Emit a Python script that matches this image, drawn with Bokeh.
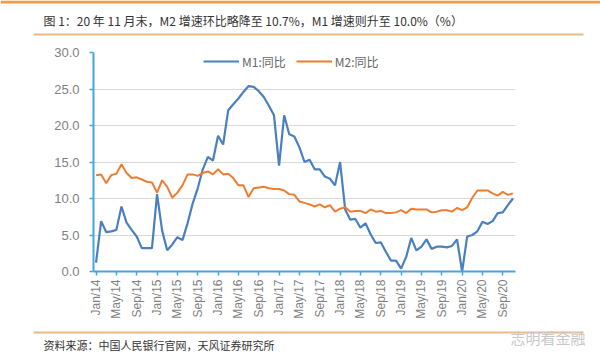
from bokeh.plotting import figure
from bokeh.models import (FixedTicker, NumeralTickFormatter, Legend, LegendItem, Range1d)
from bokeh.layouts import column
from bokeh.core.properties import value
from bokeh.embed import file_html
from bokeh.resources import INLINE

# M1 / M2 year-on-year growth (%), Jan 2014 - Nov 2020
m1 = [1.2, 6.9, 5.4, 5.5, 5.7, 8.9, 6.7, 5.7, 4.8, 3.2, 3.2, 3.2,
      10.6, 5.6, 2.9, 3.7, 4.7, 4.3, 6.6, 9.3, 11.4, 14.0, 15.7, 15.2,
      18.6, 17.4, 22.1, 22.9, 23.7, 24.6, 25.4, 25.3, 24.7, 23.9, 22.7, 21.4,
      14.5, 21.4, 18.8, 18.5, 17.0, 15.0, 15.3, 14.0, 14.0, 13.0, 12.7, 11.8,
      15.0, 8.5, 7.1, 7.2, 6.0, 6.6, 5.1, 3.9, 4.0, 2.7, 1.5, 1.5,
      0.4, 2.0, 4.6, 2.9, 3.4, 4.4, 3.1, 3.4, 3.4, 3.3, 3.5, 4.4,
      0.0, 4.8, 5.0, 5.5, 6.8, 6.5, 6.9, 8.0, 8.1, 9.1, 10.0]
m2 = [13.2, 13.3, 12.1, 13.2, 13.4, 14.7, 13.5, 12.8, 12.9, 12.6, 12.3, 12.2,
      10.8, 12.5, 11.6, 10.1, 10.8, 11.8, 13.3, 13.3, 13.1, 13.5, 13.7, 13.3,
      14.0, 13.3, 13.4, 12.8, 11.8, 11.8, 10.2, 11.4, 11.5, 11.6, 11.4, 11.3,
      11.3, 11.1, 10.6, 10.5, 9.6, 9.4, 9.2, 8.9, 9.2, 8.8, 9.1, 8.2,
      8.6, 8.8, 8.2, 8.3, 8.3, 8.0, 8.5, 8.2, 8.3, 8.0, 8.0, 8.1,
      8.4, 8.0, 8.6, 8.5, 8.5, 8.5, 8.1, 8.2, 8.4, 8.4, 8.2, 8.7,
      8.4, 8.8, 10.1, 11.1, 11.1, 11.1, 10.7, 10.4, 10.9, 10.5, 10.7]
tick_labels = ["Jan/14", "May/14", "Sep/14", "Jan/15", "May/15", "Sep/15",
               "Jan/16", "May/16", "Sep/16", "Jan/17", "May/17", "Sep/17",
               "Jan/18", "May/18", "Sep/18", "Jan/19", "May/19", "Sep/19",
               "Jan/20", "May/20", "Sep/20"]
y_ticks = [0, 5, 10, 15, 20, 25, 30]
series_names = ["M1:同比", "M2:同比"]
title_text = "图 1：20 年 11 月末，M2 增速环比略降至 10.7%，M1 增速则升至 10.0%（%）"
source_text = "资料来源：中国人民银行官网，天风证券研究所"
watermark_text = "志明看金融"

idx = list(range(len(m1)))
tick_pos = [i * 4 for i in range(len(tick_labels))]

CJK = value("Noto Sans CJK SC")
LINE_TAN = "#eab98a"


def strip(h):
    f = figure(width=600, height=h, output_backend="svg", toolbar_location=None,
               x_range=Range1d(0, 600), y_range=Range1d(h, 0),
               x_axis_type=None, y_axis_type=None, min_border=0,
               title=None, frame_align=False)
    f.grid.grid_line_color = None
    f.outline_line_color = None
    f.background_fill_color = "white"
    f.border_fill_color = "white"
    return f


# --- header strip (canvas y 0..40)
top = strip(40)
top.quad(left=[0], right=[600], top=[0], bottom=[3], fill_color="#f29a4b", line_color=None)
top.quad(left=[33], right=[583], top=[33], bottom=[35], fill_color=LINE_TAN, line_color=None)
top.text(x=[43], y=[20], text=[title_text], text_font=CJK, text_font_size=value("12px"),
         text_color="#333333", text_baseline="middle", text_align="left")

# --- main chart (canvas y 40..326)
p = figure(width=600, height=286, output_backend="svg", toolbar_location=None,
           x_range=Range1d(-0.5, len(m1) - 0.5), y_range=Range1d(0, 30),
           min_border_left=93, min_border_right=85, min_border_top=12,
           min_border_bottom=55, title=None, frame_align=False)
p.outline_line_color = None
p.background_fill_color = "white"
p.border_fill_color = "white"
p.xgrid.grid_line_color = None
p.ygrid.grid_line_color = "#d9d9d9"
p.ygrid.grid_line_width = 1

axis_blue = "#45a6dc"
p.yaxis.ticker = FixedTicker(ticks=y_ticks)
p.yaxis.formatter = NumeralTickFormatter(format="0.0")
p.xaxis.ticker = FixedTicker(ticks=tick_pos)
p.xaxis.major_label_overrides = {pos: lab for pos, lab in zip(tick_pos, tick_labels)}
p.xaxis.major_label_orientation = 1.5708
for ax in (p.xaxis, p.yaxis):
    ax.axis_line_color = axis_blue
    ax.axis_line_width = 2
    ax.major_tick_line_color = axis_blue
    ax.major_tick_line_width = 1.5
    ax.major_tick_out = 4
    ax.major_tick_in = 0
    ax.minor_tick_line_color = None
    ax.major_label_text_color = "#7f7f7f"
    ax.major_label_text_font = "Liberation Sans"
p.yaxis.major_label_text_font_size = "13px"
p.yaxis.major_label_standoff = 10
p.xaxis.major_label_text_font_size = "12px"
p.xaxis.major_label_standoff = 4

r1 = p.line(idx, m1, line_color="#4a7fc0", line_width=2.2)
r2 = p.line(idx, m2, line_color="#ec7d31", line_width=2.0)

legend = Legend(items=[LegendItem(label=series_names[0], renderers=[r1]),
                       LegendItem(label=series_names[1], renderers=[r2])],
                orientation="horizontal", location=(110, 200),
                background_fill_alpha=0, border_line_color=None,
                label_text_font="Noto Sans CJK SC", label_text_font_size="12px",
                label_text_color="#666666", glyph_width=36, label_standoff=3,
                spacing=10, padding=0, margin=0)
p.add_layout(legend, "center")

# --- footer strip (canvas y 326..354)
bot = strip(28)
bot.quad(left=[33], right=[583], top=[5], bottom=[7], fill_color=LINE_TAN, line_color=None)
bot.text(x=[43], y=[18], text=[source_text], text_font=CJK, text_font_size=value("11px"),
         text_color="#333333", text_baseline="middle", text_align="left")
bot.text(x=[585], y=[11], text=[watermark_text], text_font=CJK, text_font_size=value("15px"),
         text_color="#c8c8c8", text_baseline="middle", text_align="right")

layout = column(top, p, bot, spacing=0)
open("out.html", "w").write(file_html(layout, INLINE))
